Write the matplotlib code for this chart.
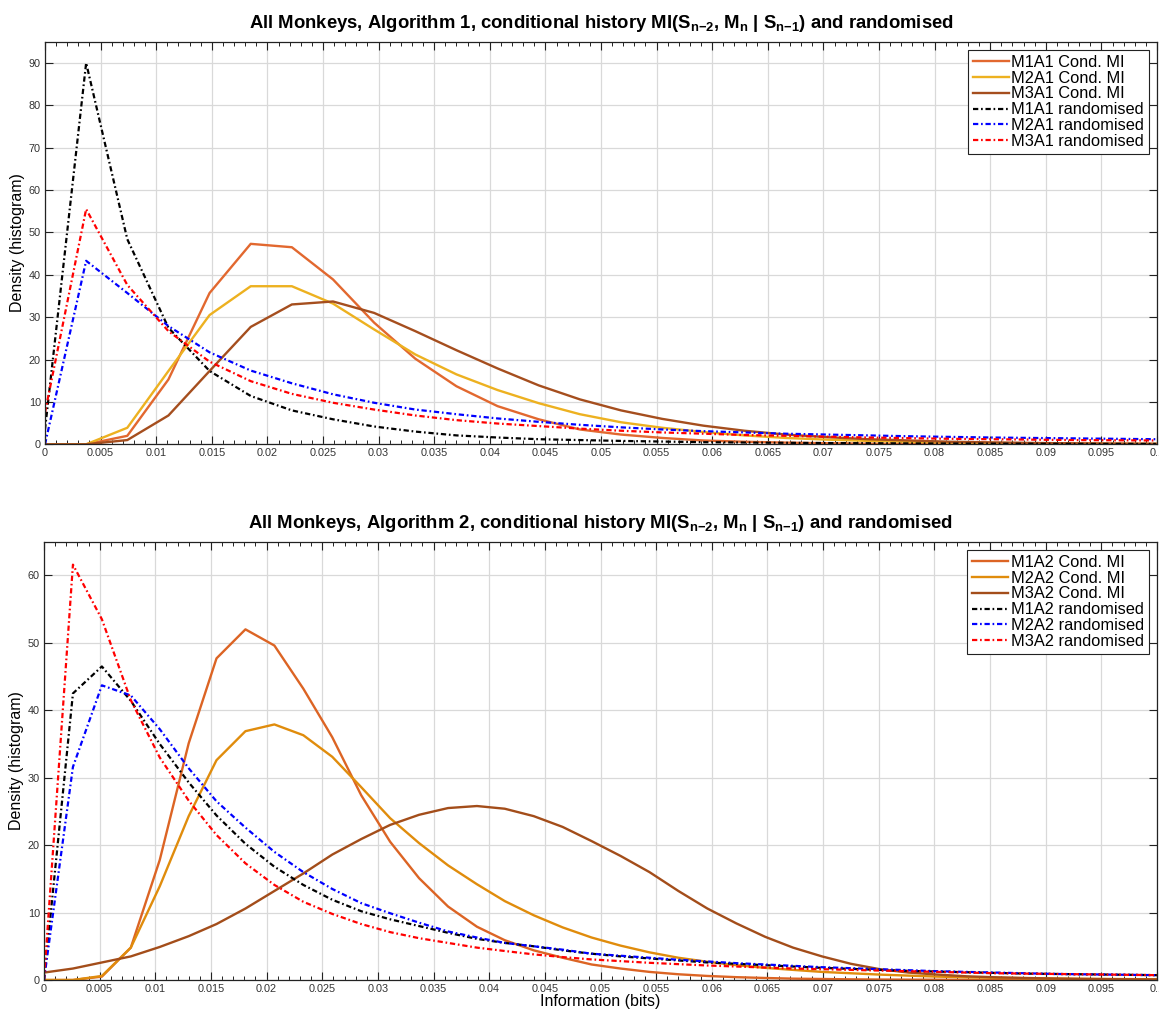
# Histogram densities of conditional history MI and randomised MI, two algorithms
import matplotlib
matplotlib.use("Agg")
import matplotlib.pyplot as plt
from matplotlib.ticker import MultipleLocator, FuncFormatter

plt.rcParams['font.family'] = ['Liberation Sans', 'DejaVu Sans']
plt.rcParams['mathtext.fontset'] = 'custom'
plt.rcParams['mathtext.rm'] = 'Liberation Sans'
plt.rcParams['mathtext.bf'] = 'Liberation Sans:bold'
plt.rcParams['lines.scale_dashes'] = False

# ---- Algorithm 1 (bin centres and densities) ----
x_alg1 = [0, 0.0037, 0.0074, 0.0111, 0.0148, 0.0185, 0.0222, 0.0259, 0.0296, 0.0333,
          0.037, 0.0407, 0.0444, 0.0481, 0.0518, 0.0555, 0.0592, 0.0629, 0.0666, 0.0703,
          0.074, 0.0777, 0.0814, 0.0851, 0.0888, 0.0925, 0.0962, 0.0999]
m1a1_cond = [0, 0, 2.0, 15.3, 35.7, 47.3, 46.5, 38.9, 28.7, 20.2, 13.7, 9.0, 5.9, 3.5,
             2.3, 1.5, 0.9, 0.6, 0.4, 0.25, 0.15, 0.1, 0.07, 0.05, 0.03, 0.02, 0.01, 0.01]
m2a1_cond = [0, 0, 3.9, 17.3, 30.5, 37.3, 37.3, 33.2, 27.1, 21.2, 16.5, 12.8, 9.7, 7.1,
             5.2, 3.9, 2.9, 2.1, 1.5, 1.1, 0.8, 0.6, 0.45, 0.33, 0.25, 0.18, 0.13, 0.1]
m3a1_cond = [0, 0, 1.0, 6.8, 17.3, 27.7, 33.0, 33.7, 31.0, 26.7, 22.2, 17.9, 13.9, 10.6,
             8.0, 6.0, 4.4, 3.2, 2.3, 1.7, 1.2, 0.9, 0.6, 0.45, 0.32, 0.23, 0.17, 0.12]
m1a1_rand = [3.5, 90, 48.4, 27.5, 17.3, 11.4, 8.0, 5.9, 4.2, 3.0, 2.1, 1.6, 1.2, 1.0,
             0.8, 0.65, 0.5, 0.42, 0.35, 0.3, 0.25, 0.21, 0.18, 0.15, 0.13, 0.11, 0.1, 0.09]
m2a1_rand = [0, 43.3, 35.7, 27.9, 21.7, 17.4, 14.4, 11.8, 9.8, 8.2, 7.1, 6.1, 5.3, 4.6,
             4.0, 3.5, 3.1, 2.8, 2.5, 2.3, 2.1, 1.9, 1.75, 1.6, 1.5, 1.4, 1.3, 1.2]
m3a1_rand = [7.5, 55.5, 37.6, 26.7, 19.5, 14.9, 11.9, 9.8, 8.2, 6.8, 5.7, 4.9, 4.3, 3.7,
             3.2, 2.8, 2.5, 2.2, 2.0, 1.8, 1.6, 1.45, 1.3, 1.2, 1.1, 1.0, 0.95, 0.9]

# ---- Algorithm 2 ----
x_alg2 = [0, 0.0026, 0.0052, 0.0078, 0.0104, 0.0130, 0.0155, 0.0181, 0.0207, 0.0233,
          0.0259, 0.0285, 0.0311, 0.0337, 0.0363, 0.0389, 0.0414, 0.0440, 0.0466, 0.0492,
          0.0518, 0.0544, 0.0570, 0.0596, 0.0622, 0.0648, 0.0673, 0.0699, 0.0725, 0.0751,
          0.0777, 0.0803, 0.0829, 0.0855, 0.0881, 0.0907, 0.0932, 0.0958, 0.0984, 0.1010]
m1a2_cond = [0, 0, 0.5, 4.8, 17.8, 35.1, 47.7, 52.0, 49.6, 43.2,
             36.0, 27.4, 20.5, 15.1, 10.9, 7.9, 5.9, 4.4, 3.3, 2.3,
             1.7, 1.2, 0.85, 0.6, 0.42, 0.3, 0.2, 0.15, 0.1, 0.07,
             0.05, 0.04, 0.03, 0.02, 0.02, 0.01, 0.01, 0.01, 0, 0]
m2a2_cond = [0, 0, 0.6, 4.8, 13.9, 24.3, 32.6, 36.9, 37.9, 36.3,
             33.1, 28.6, 24.0, 20.3, 17.0, 14.2, 11.7, 9.6, 7.8, 6.3,
             5.1, 4.1, 3.3, 2.7, 2.2, 1.8, 1.5, 1.2, 1.0, 0.8,
             0.65, 0.5, 0.4, 0.33, 0.27, 0.22, 0.18, 0.15, 0.12, 0.1]
m3a2_cond = [1.1, 1.7, 2.6, 3.5, 4.9, 6.5, 8.3, 10.6, 13.2, 15.8,
             18.6, 20.9, 23.0, 24.5, 25.5, 25.8, 25.4, 24.3, 22.7, 20.6,
             18.4, 16.0, 13.2, 10.6, 8.4, 6.4, 4.8, 3.5, 2.4, 1.6,
             1.1, 0.8, 0.55, 0.4, 0.3, 0.22, 0.16, 0.12, 0.09, 0.07]
m1a2_rand = [0, 42.5, 46.5, 41.4, 35.0, 29.3, 24.4, 20.2, 16.8, 14.1,
             11.9, 10.2, 9.0, 8.0, 7.0, 6.1, 5.5, 5.0, 4.4, 3.9,
             3.5, 3.2, 2.9, 2.6, 2.4, 2.2, 2.0, 1.8, 1.65, 1.5,
             1.35, 1.25, 1.15, 1.05, 0.95, 0.9, 0.85, 0.8, 0.75, 0.7]
m2a2_rand = [0, 31.6, 43.7, 42.2, 37.2, 31.4, 26.5, 22.6, 19.0, 16.0,
             13.5, 11.4, 9.9, 8.5, 7.2, 6.3, 5.5, 5.0, 4.5, 3.9,
             3.6, 3.3, 3.0, 2.75, 2.5, 2.3, 2.1, 1.9, 1.75, 1.6,
             1.45, 1.3, 1.2, 1.1, 1.0, 0.9, 0.85, 0.8, 0.75, 0.7]
m3a2_rand = [0, 61.6, 53.5, 41.5, 33.0, 26.6, 21.5, 17.3, 14.1, 11.6,
             9.8, 8.3, 7.1, 6.2, 5.5, 4.8, 4.3, 3.8, 3.4, 3.05,
             2.8, 2.55, 2.35, 2.15, 2.0, 1.85, 1.7, 1.6, 1.5, 1.4,
             1.3, 1.2, 1.1, 1.0, 0.95, 0.9, 0.85, 0.8, 0.75, 0.7]

dashdot = (0, (3.8, 2.0, 1.2, 2.0))

fig = plt.figure(figsize=(11.59, 10.09), dpi=100)
ax1 = fig.add_axes([45 / 1159, 1 - 444.3 / 1009, 1112 / 1159, 402.6 / 1009])
ax2 = fig.add_axes([44 / 1159, 1 - 980 / 1009, 1113 / 1159, 438.3 / 1009])


def style_axes(ax, ytop, ystep):
    ax.set_xlim(0, 0.1)
    ax.set_ylim(0, ytop)
    ax.xaxis.set_major_locator(MultipleLocator(0.005))
    ax.xaxis.set_minor_locator(MultipleLocator(0.001))
    ax.yaxis.set_major_locator(MultipleLocator(ystep))
    ax.xaxis.set_major_formatter(FuncFormatter(lambda v, p: f"{v:g}"))
    ax.tick_params(which='both', direction='in', top=True, right=True,
                   labelsize=7.8, labelcolor='#333333', color='#222222')
    ax.tick_params(which='major', length=6, width=0.8, pad=3)
    ax.tick_params(which='minor', length=3, width=0.7)
    ax.grid(True, which='major', color='#d9d9d9', linewidth=0.9)
    ax.set_axisbelow(True)
    for s in ax.spines.values():
        s.set_linewidth(0.9)
        s.set_color('#222222')
    ax.set_ylabel('Density (histogram)', fontsize=11.5, labelpad=3)


# Top panel
ax1.plot(x_alg1, m1a1_cond, color='#E2682F', lw=1.7, label='M1A1 Cond. MI')
ax1.plot(x_alg1, m2a1_cond, color='#EDB120', lw=1.7, label='M2A1 Cond. MI')
ax1.plot(x_alg1, m3a1_cond, color='#A54E1E', lw=1.7, label='M3A1 Cond. MI')
ax1.plot(x_alg1, m1a1_rand, color='black', lw=1.6, ls=dashdot, label='M1A1 randomised')
ax1.plot(x_alg1, m2a1_rand, color='blue', lw=1.6, ls=dashdot, label='M2A1 randomised')
ax1.plot(x_alg1, m3a1_rand, color='red', lw=1.6, ls=dashdot, label='M3A1 randomised')
style_axes(ax1, 95, 10)
ax1.set_title(r'All Monkeys, Algorithm 1, conditional history MI(S$_{\mathbf{n{-}2}}$, '
              r'M$_{\mathbf{n}}$ | S$_{\mathbf{n{-}1}}$) and randomised',
              fontsize=13.3, fontweight='bold', pad=10)

# Bottom panel
ax2.plot(x_alg2, m1a2_cond, color='#DC6424', lw=1.7, label='M1A2 Cond. MI')
ax2.plot(x_alg2, m2a2_cond, color='#E08C0C', lw=1.7, label='M2A2 Cond. MI')
ax2.plot(x_alg2, m3a2_cond, color='#A34D1A', lw=1.7, label='M3A2 Cond. MI')
ax2.plot(x_alg2, m1a2_rand, color='black', lw=1.6, ls=dashdot, label='M1A2 randomised')
ax2.plot(x_alg2, m2a2_rand, color='blue', lw=1.6, ls=dashdot, label='M2A2 randomised')
ax2.plot(x_alg2, m3a2_rand, color='red', lw=1.6, ls=dashdot, label='M3A2 randomised')
style_axes(ax2, 65, 10)
ax2.set_title(r'All Monkeys, Algorithm 2, conditional history MI(S$_{\mathbf{n{-}2}}$, '
              r'M$_{\mathbf{n}}$ | S$_{\mathbf{n{-}1}}$) and randomised',
              fontsize=13.3, fontweight='bold', pad=10)
ax2.set_xlabel('Information (bits)', fontsize=11.5, labelpad=0)

for ax in (ax1, ax2):
    leg = ax.legend(loc='upper right', fontsize=11.8, handlelength=2.2,
                    handletextpad=0.15, labelspacing=0.05, borderpad=0.3,
                    borderaxespad=0.5, fancybox=False, framealpha=1)
    leg.get_frame().set_edgecolor('#222222')
    leg.get_frame().set_linewidth(0.8)

plt.savefig('out.png', dpi=100)
